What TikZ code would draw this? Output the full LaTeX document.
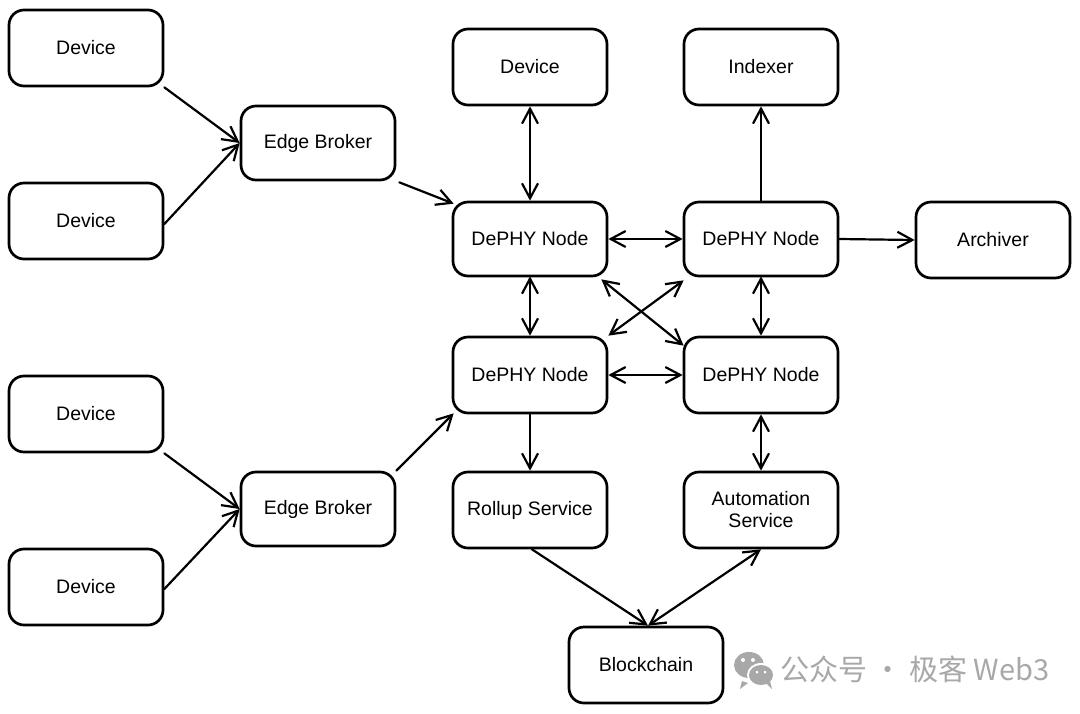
\documentclass[tikz,border=0pt]{standalone}
\usepackage{fontspec}
\setmainfont{Liberation Sans}
\newfontfamily\cjkfont{Noto Sans CJK SC}
\usetikzlibrary{arrows.meta}
\definecolor{wm}{HTML}{A8A8A8}
\begin{document}
\begin{tikzpicture}[x=1pt,y=-1pt,
  box/.style={draw=black, line width=2.7pt, rounded corners=15pt, minimum width=154pt, minimum height=76pt, inner sep=0pt, align=center, font=\fontsize{19.5}{22}\selectfont},
  conn/.style={line width=2.2pt, draw=black, line cap=round},
  tipo/.style={-{Straight Barb[length=15pt,width=16pt,line width=2.2pt]}},
  tipb/.style={{Straight Barb[length=15pt,width=16pt,line width=2.2pt]}-{Straight Barb[length=15pt,width=16pt,line width=2.2pt]}}
]
\useasboundingbox (0,0) rectangle (1080,713);
\fill[white] (0,0) rectangle (1080,713);
% nodes
\node[box] (d1) at (86,48) {Device};
\node[box, minimum height=74pt] (eb1) at (318,143) {Edge Broker};
\node[box] (d2) at (86,221) {Device};
\node[box] (d3) at (86,414) {Device};
\node[box, minimum height=74pt] (eb2) at (318,509) {Edge Broker};
\node[box] (d4) at (86,587) {Device};
\node[box] (dt) at (530,67) {Device};
\node[box] (ix) at (761,67) {Indexer};
\node[box, minimum height=74pt] (tl) at (530,239) {DePHY Node};
\node[box, minimum height=74pt] (tr) at (761,239) {DePHY Node};
\node[box] (ar) at (993,240) {Archiver};
\node[box] (bl) at (530,375) {DePHY Node};
\node[box] (br) at (761,375) {DePHY Node};
\node[box] (ro) at (530,510) {Rollup Service};
\node[box] (au) at (761,510) {Automation\\Service};
\node[box] (bc) at (646,665) {Blockchain};
% connectors
\draw[conn,tipo] (d1.south east) -- (eb1.west);
\draw[conn,tipo] ([yshift=-3pt]d2.east) -- (eb1.west);
\draw[conn,tipo] ([shift={(3,1)}]eb1.south east) -- ([shift={(2,3)}]tl.north west);
\draw[conn,tipb] (dt.south) -- (tl.north);
\draw[conn,tipo] (tr.north) -- (ix.south);
\draw[conn,tipb] (tl.east) -- (tr.west);
\draw[conn,tipo] (tr.east) -- (ar.west);
\draw[conn,tipb] ([yshift=1pt]tl.south) -- (bl.north);
\draw[conn,tipb] ([yshift=1pt]tr.south) -- (br.north);
\draw[conn,tipb] ([shift={(-7,2)}]tl.south east) -- ([shift={(1,10)}]br.north west);
\draw[conn,tipb] ([shift={(1,3)}]tr.south west) -- ([shift={(0,0)}]bl.north east);
\draw[conn,tipb] (bl.east) -- (br.west);
\draw[conn,tipo] (eb2.north east) -- ([shift={(2,-1)}]bl.south west);
\draw[conn,tipo] (d3.south east) -- (eb2.west);
\draw[conn,tipo] ([yshift=-2pt]d4.east) -- (eb2.west);
\draw[conn,tipo] (bl.south) -- (ro.north);
\draw[conn,tipb] (br.south) -- (au.north);
\draw[conn,tipo] ([xshift=2pt]ro.south) -- ([xshift=2pt]bc.north);
\draw[conn,tipb] (au.south) -- ([xshift=2pt]bc.north);
% watermark
\fill[wm] (749,665) ellipse (15pt and 13pt);
\fill[wm] (742,681) -- (740,689) -- (748,683) -- cycle;
\fill[white] (761,675) ellipse (14pt and 12pt);
\fill[wm] (761,675) ellipse (12pt and 10pt);
\fill[wm] (766,683) -- (772,689) -- (770,681) -- cycle;
\fill[white] (743,660) circle (2pt);
\fill[white] (753,660) circle (2pt);
\fill[white] (757,672) circle (1.5pt);
\fill[white] (765,672) circle (1.5pt);
\node[anchor=west, text=wm, font=\cjkfont\fontsize{29}{29}\selectfont, inner sep=0pt] (wmt) at (780,669) {公众号 · 极客 Web3};
\end{tikzpicture}
\end{document}
